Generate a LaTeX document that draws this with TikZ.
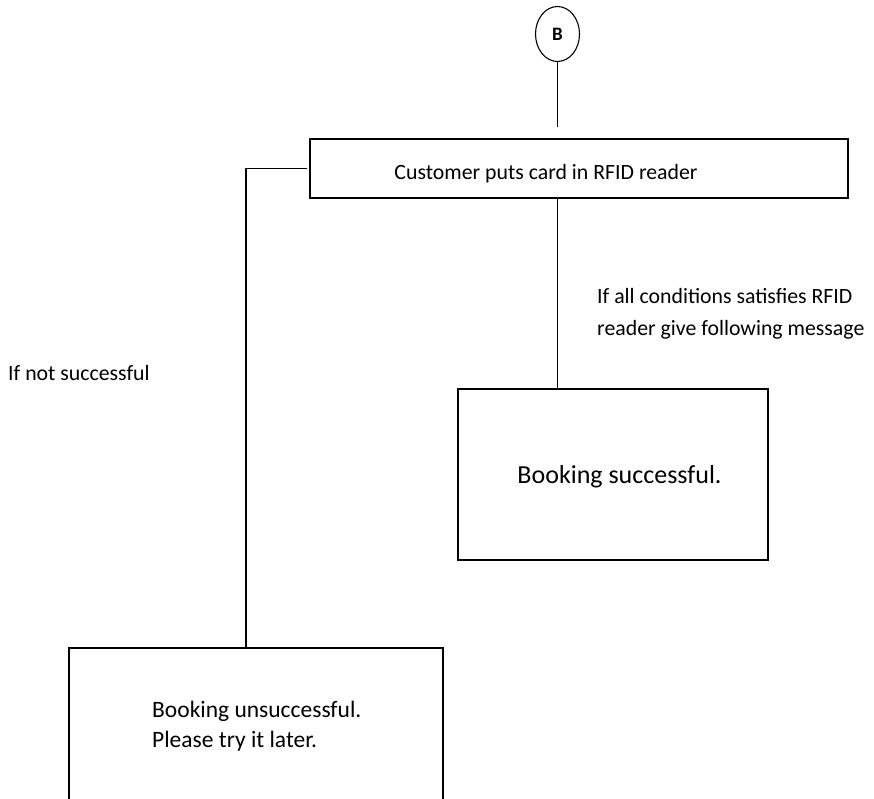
\documentclass[tikz,border=0pt]{standalone}
\usepackage{fontspec}
\setmainfont{Carlito}
\usetikzlibrary{shapes.geometric}
\begin{document}
\begin{tikzpicture}[x=1pt,y=-1pt,
  box/.style={draw, line width=1.3pt, inner sep=0pt},
  conn/.style={draw, line width=1.3pt},
  txt/.style={font=\fontsize{21.8}{32}\selectfont, inner sep=0pt, anchor=west, align=left},
  bigtxt/.style={font=\fontsize{26}{30}\selectfont, inner sep=0pt}]
\useasboundingbox (0,0) rectangle (874,798);
% connector B
\node[draw, ellipse, line width=1.1pt, minimum width=44pt, minimum height=55pt, inner sep=0pt,
  font=\fontsize{19}{22}\selectfont\bfseries] (b) at (557.5,34) {B};
\coordinate (bend) at (557.5,127);
% top box
\node[box, minimum width=538pt, minimum height=59pt] (top) at (579,168.5) {};
\node[txt, anchor=center] (toptxt) at (546,174) {Customer puts card in RFID reader};
% success box
\node[box, minimum width=310pt, minimum height=171pt] (succ) at (613,474.5) {};
\node[bigtxt] (succtxt) at (619.5,477) {Booking successful.};
% unsuccessful box (cut off at bottom)
\coordinate (unsTL) at (69,648);
\coordinate (unsTR) at (443,648);
\coordinate (unsBL) at (69,800);
\coordinate (unsBR) at (443,800);
\draw[line width=1.3pt] (unsBL) -- (unsTL) -- (unsTR) -- (unsBR);
\node[txt, anchor=north west, font=\fontsize{23.5}{30}\selectfont] (unstxt) at (152,701) {Booking unsuccessful.\\Please try it later.};
% labels
\node[txt] (lblok) at (597,314) {If all conditions satisfies RFID\\reader give following message};
\node[txt] (lblno) at (8,373) {If not successful};
% connectors
\draw[conn] (b.south) -- (bend);
\draw[conn] (top.south -| b) -- (succ.north -| b);
\coordinate (lh) at (246,168.5);
\coordinate (lv) at (246,648);
\draw[conn] ([xshift=-2pt]top.west) -- (lh) -- (lv);
\end{tikzpicture}
\end{document}
